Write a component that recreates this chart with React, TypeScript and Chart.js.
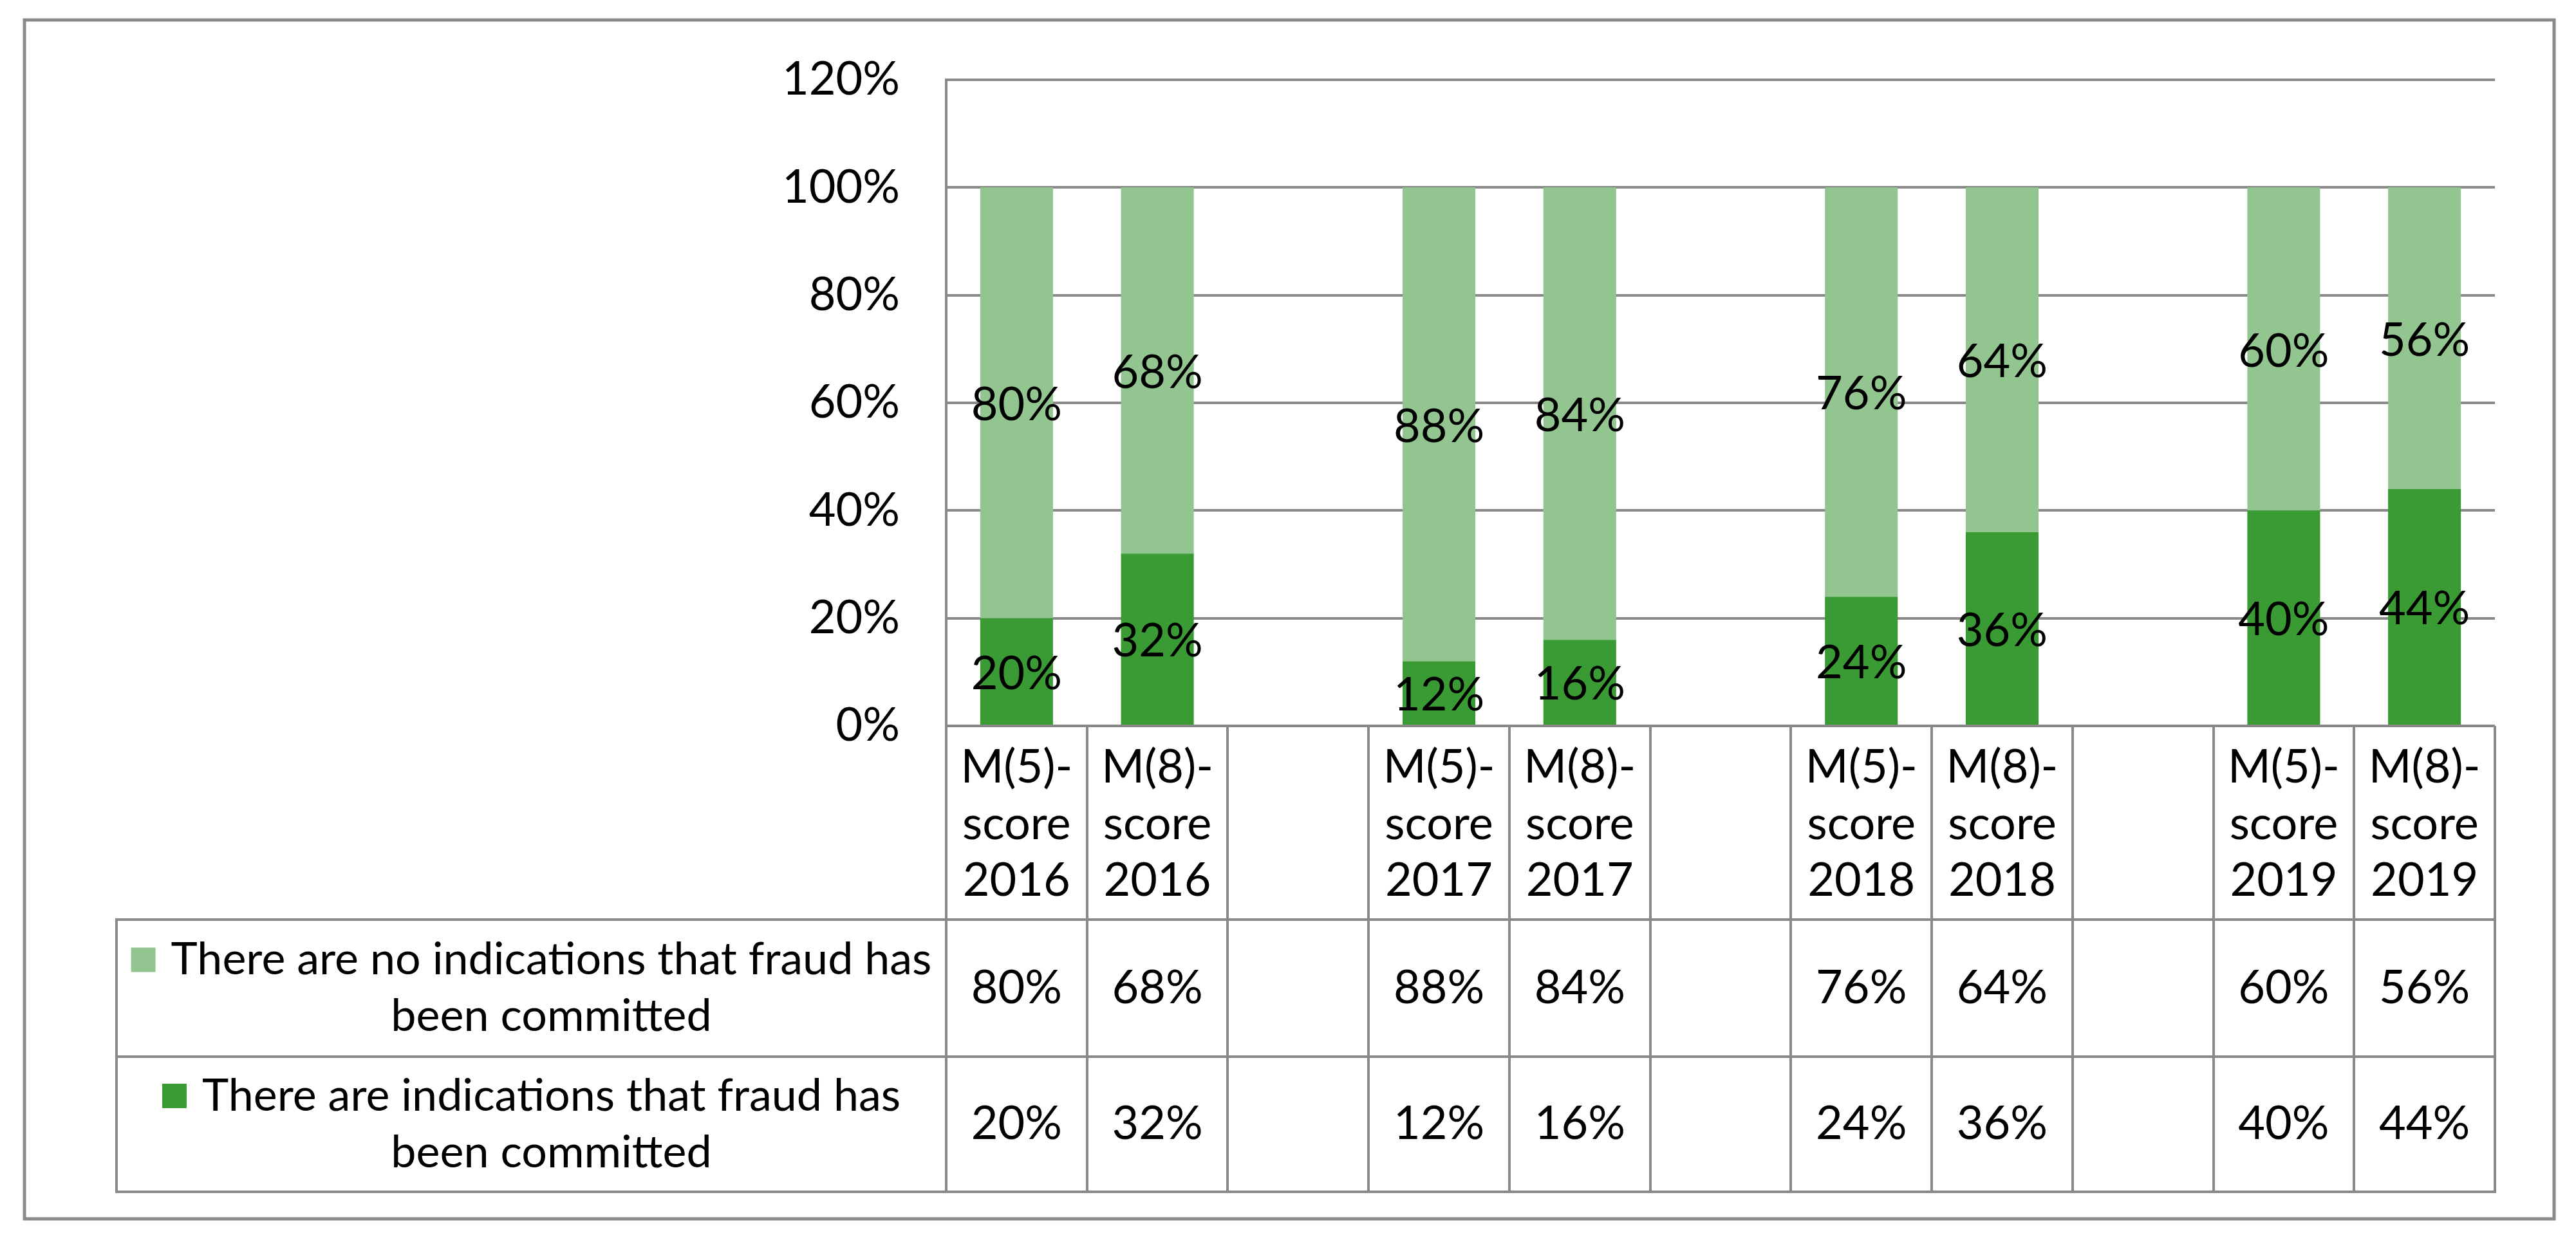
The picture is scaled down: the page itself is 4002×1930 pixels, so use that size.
import React, { useEffect, useRef } from "react";
import { Chart, registerables } from "chart.js";

Chart.register(...registerables);

// ---- data ----
const categoryLines: string[][] = [
  ["M(5)-", "score", "2016"],
  ["M(8)-", "score", "2016"],
  [],
  ["M(5)-", "score", "2017"],
  ["M(8)-", "score", "2017"],
  [],
  ["M(5)-", "score", "2018"],
  ["M(8)-", "score", "2018"],
  [],
  ["M(5)-", "score", "2019"],
  ["M(8)-", "score", "2019"],
];
const categories = categoryLines.map((l) => l.join(" "));

const noFraudValues: (number | null)[] = [80, 68, null, 88, 84, null, 76, 64, null, 60, 56];
const fraudValues: (number | null)[] = [20, 32, null, 12, 16, null, 24, 36, null, 40, 44];

const noFraudName = ["There are no indications that fraud has", "been committed"];
const fraudName = ["There are indications that fraud has", "been committed"];

const yMin = 0;
const yMax = 120;
const yStep = 20;

// ---- styles ----
const LIGHT = "#92C58F";
const DARK = "#3A9A34";
const LINE = "#898989";
const FONT = "Lato";
const FS = 72;
const LEGEND_FS = 70;

const tablePlugin = {
  id: "dataTable",
  afterDraw(chart: any) {
    const ctx: CanvasRenderingContext2D = chart.ctx;
    const { left, right, bottom } = chart.chartArea;
    const n = categories.length;
    const colW = (right - left) / n;
    const labelRowBottom = bottom + 301;
    const row1Bottom = labelRowBottom + 213;
    const row2Bottom = row1Bottom + 210;
    const legendLeft = 181;

    ctx.save();
    // data labels on bars
    ctx.fillStyle = "#000";
    ctx.font = `${FS}px ${FONT}`;
    ctx.textAlign = "center";
    ctx.textBaseline = "middle";
    chart.data.datasets.forEach((ds: any, di: number) => {
      const meta = chart.getDatasetMeta(di);
      meta.data.forEach((el: any, i: number) => {
        const v = ds.data[i];
        if (v == null) return;
        const p = el.getProps(["x", "y", "base"], true);
        ctx.fillText(`${v}%`, p.x, (p.y + p.base) / 2 + 4);
      });
    });

    // table lines
    ctx.strokeStyle = LINE;
    ctx.lineWidth = 4;
    ctx.beginPath();
    for (let i = 0; i <= n; i++) {
      const x = Math.round(left + i * colW);
      ctx.moveTo(x, bottom);
      ctx.lineTo(x, row2Bottom + 2);
    }
    [labelRowBottom, row1Bottom, row2Bottom].forEach((y) => {
      ctx.moveTo(legendLeft - 2, y);
      ctx.lineTo(right + 2, y);
    });
    ctx.moveTo(legendLeft, labelRowBottom);
    ctx.lineTo(legendLeft, row2Bottom + 2);
    ctx.stroke();

    // category labels
    ctx.fillStyle = "#000";
    ctx.font = `${FS}px ${FONT}`;
    ctx.textAlign = "center";
    ctx.textBaseline = "middle";
    const lh = 88;
    const labelMid = (bottom + labelRowBottom) / 2;
    categoryLines.forEach((lines, i) => {
      const cx = left + (i + 0.5) * colW;
      lines.forEach((t, j) => {
        ctx.fillText(t, cx, labelMid + (j - (lines.length - 1) / 2) * lh + 2);
      });
    });

    // data rows
    const rows = [
      { name: noFraudName, color: LIGHT, values: noFraudValues, top: labelRowBottom, bot: row1Bottom },
      { name: fraudName, color: DARK, values: fraudValues, top: row1Bottom, bot: row2Bottom },
    ];
    rows.forEach((r) => {
      const mid = (r.top + r.bot) / 2;
      ctx.font = `${FS}px ${FONT}`;
      r.values.forEach((v, i) => {
        if (v == null) return;
        ctx.fillText(`${v}%`, left + (i + 0.5) * colW, mid);
      });
      // legend
      ctx.font = `${LEGEND_FS}px ${FONT}`;
      const sq = 38;
      const gap = 24;
      const w1 = ctx.measureText(r.name[0]).width;
      const blockW = sq + gap + w1;
      const legCenter = (legendLeft + left) / 2;
      const bx = legCenter - blockW / 2;
      const textCx = bx + sq + gap + w1 / 2;
      const l1 = mid - 44;
      const l2 = mid + 44;
      ctx.fillStyle = r.color;
      ctx.fillRect(bx, l1 - sq / 2, sq, sq);
      ctx.fillStyle = "#000";
      ctx.fillText(r.name[0], textCx, l1);
      ctx.fillText(r.name[1], textCx, l2);
    });

    // outer border
    ctx.strokeStyle = LINE;
    ctx.lineWidth = 5;
    ctx.strokeRect(38, 31, 3930, 1863);
    ctx.restore();
  },
};

export default function App() {
  const ref = useRef<HTMLCanvasElement | null>(null);
  useEffect(() => {
    document.body.style.margin = "0";
    const canvas = ref.current!;
    const chart = new Chart(canvas, {
      type: "bar",
      data: {
        labels: categories,
        datasets: [
          {
            label: fraudName.join(" "),
            data: fraudValues,
            backgroundColor: DARK,
            barPercentage: 0.517,
            categoryPercentage: 1,
          },
          {
            label: noFraudName.join(" "),
            data: noFraudValues,
            backgroundColor: LIGHT,
            barPercentage: 0.517,
            categoryPercentage: 1,
          },
        ],
      },
      options: {
        responsive: false,
        animation: false,
        devicePixelRatio: 1,
        layout: { padding: { top: 124, right: 126, left: 0, bottom: 0 } },
        plugins: {
          legend: { display: false },
          tooltip: { enabled: false },
          title: { display: false },
        },
        scales: {
          x: {
            stacked: true,
            grid: { display: false },
            border: { display: false },
            ticks: { display: false },
            afterFit: (s: any) => {
              s.height = 802;
            },
          },
          y: {
            stacked: true,
            min: yMin,
            max: yMax,
            ticks: {
              stepSize: yStep,
              callback: (v: any) => `${v}%`,
              font: { family: FONT, size: FS },
              color: "#000",
              padding: 72,
            },
            grid: { color: LINE, lineWidth: 4, drawTicks: false },
            border: { display: true, color: LINE, width: 4 },
            afterFit: (s: any) => {
              s.width = 1470;
            },
          },
        },
      },
      plugins: [tablePlugin],
    });
    return () => chart.destroy();
  }, []);
  return <canvas ref={ref} width={4002} height={1930} style={{ display: "block" }} />;
}
